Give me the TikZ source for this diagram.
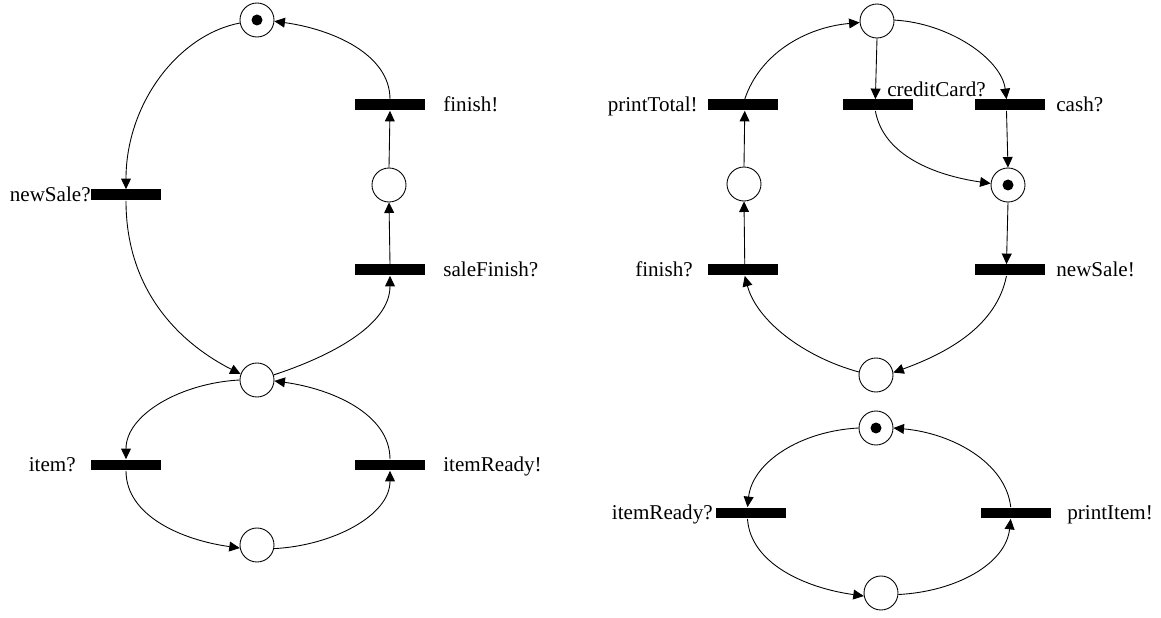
\documentclass[tikz,border=0pt]{standalone}
\usepackage{fontspec}
\setmainfont{Liberation Serif}
\usetikzlibrary{arrows.meta}
\begin{document}
\begin{tikzpicture}[x=0.02cm,y=0.02cm,
  place/.style={circle,draw,line width=0.5pt,minimum size=0.68cm,inner sep=0pt},
  tokenplace/.style={place,path picture={\fill (path picture bounding box.center) circle (0.11cm);}},
  trans/.style={rectangle,fill=black,minimum width=1.4cm,minimum height=0.22cm,inner sep=0pt},
  lbl/.style={font=\fontsize{12}{14}\selectfont,inner sep=0pt},
  arc/.style={line width=0.5pt,-{Triangle[length=6pt,width=5.6pt]}}
]
\useasboundingbox (0,0) rectangle (1161,-618);

% ---------- left net ----------
\node[tokenplace] (p1) at (257,-20) {};
\node[place] (p2) at (389,-185) {};
\node[place] (p3) at (257,-380) {};
\node[place] (p4) at (257,-545) {};
\node[trans] (tNSL) at (126,-195) {};
\node[trans] (tFL) at (390,-105) {};
\node[trans] (tSF) at (390,-270) {};
\node[trans] (tItem) at (126,-465) {};
\node[trans] (tIR) at (390,-465) {};

\node[lbl,anchor=base east] (lNSL) at (91,-202) {newSale?};
\node[lbl,anchor=base west] (lFL) at (443,-112) {finish!};
\node[lbl,anchor=base west] (lSF) at (443,-277) {saleFinish?};
\node[lbl,anchor=base east] (lItem) at (76,-472) {item?};
\node[lbl,anchor=base west] (lIR) at (443,-472) {itemReady!};

\draw[arc] (p1.190) .. controls +(-62,-12) and +(0,85) .. (tNSL.north);
\draw[arc] (tNSL.south) .. controls +(0,-95) and +(-55,28) .. (p3.160);
\draw[arc] (p3.17) .. controls +(55,18) and +(0,-50) .. (tSF.south);
\draw[arc] (tSF.north) -- (p2.south);
\draw[arc] (p2.north) -- (tFL.south);
\draw[arc] (tFL.north) .. controls +(0,45) and +(58,-8) .. (p1.-4);

\draw[arc] (p3.180) .. controls +(-58,-3) and +(0,45) .. (tItem.north);
\draw[arc] (tItem.south) .. controls +(0,-45) and +(-58,8) .. (p4.190);
\draw[arc] (p4.-12) .. controls +(58,3) and +(0,-45) .. (tIR.south);
\draw[arc] (tIR.north) .. controls +(0,45) and +(58,-8) .. (p3.-3);

% ---------- right upper net ----------
\node[place] (pT) at (877,-21) {};
\node[place] (pL) at (744,-184) {};
\node[tokenplace] (pTok) at (1008,-185) {};
\node[place] (pB) at (876,-375) {};
\node[trans] (tPT) at (743,-105) {};
\node[trans] (tCC) at (878,-105) {};
\node[trans] (tCash) at (1010,-105) {};
\node[trans] (tFin) at (743,-270) {};
\node[trans] (tNS) at (1010,-270) {};

\node[lbl,anchor=base east] (lPT) at (698,-112) {printTotal!};
\node[lbl,anchor=base west] (lCC) at (887,-97) {creditCard?};
\node[lbl,anchor=base west] (lCash) at (1056,-112) {cash?};
\node[lbl,anchor=base east] (lFin) at (693,-277) {finish?};
\node[lbl,anchor=base west] (lNS) at (1056,-277) {newSale!};

\draw[arc] ([xshift=1]tPT.north) .. controls +(15,45) and +(-55,-5) .. (pT.185);
\draw[arc] (pT.south) -- ([xshift=-1.5]tCC.north);
\draw[arc] (pT.3) .. controls +(55,-3) and +(-5,40) .. ([xshift=-2]tCash.north);
\draw[arc] ([xshift=-1.5]tCC.south) .. controls +(8,-45) and +(-55,8) .. (pTok.175);
\draw[arc] ([xshift=-2]tCash.south) -- (pTok.north);
\draw[arc] (pTok.south) -- ([xshift=-2]tNS.north);
\draw[arc] ([xshift=-2]tNS.south) .. controls +(-10,-50) and +(55,20) .. (pB.8);
\draw[arc] (pB.170) .. controls +(-55,15) and +(12,-45) .. ([xshift=1]tFin.south);
\draw[arc] ([xshift=1]tFin.north) -- (pL.south);
\draw[arc] (pL.north) -- ([xshift=1]tPT.south);

% ---------- right lower net ----------
\node[tokenplace] (pT2) at (876,-428) {};
\node[place] (pB2) at (881,-593) {};
\node[trans] (tIRq) at (751,-513) {};
\node[trans] (tPI) at (1016,-513) {};

\node[lbl,anchor=base east] (lIRq) at (713,-520) {itemReady?};
\node[lbl,anchor=base west] (lPI) at (1067,-520) {printItem!};

\draw[arc] (pT2.west) .. controls +(-58,-3) and +(5,45) .. ([xshift=-2]tIRq.north);
\draw[arc] ([xshift=-2]tIRq.south) .. controls +(3,-45) and +(-58,8) .. (pB2.190);
\draw[arc] (pB2.-5) .. controls +(58,3) and +(-5,-45) .. ([xshift=-3]tPI.south);
\draw[arc] ([xshift=-3]tPI.north) .. controls +(-5,45) and +(58,-5) .. (pT2.east);
\end{tikzpicture}
\end{document}
